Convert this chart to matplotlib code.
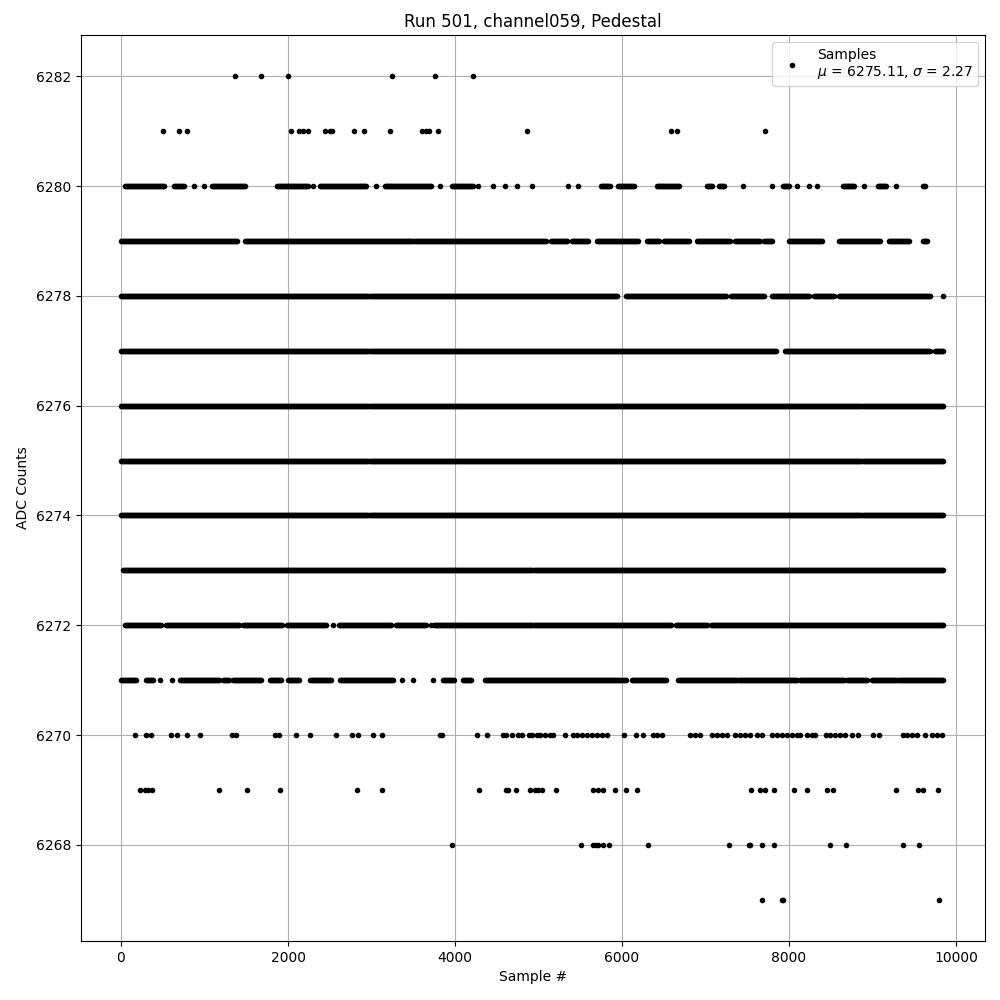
import matplotlib.pyplot as plt
import numpy as np

# Sparse levels: sample numbers
x_6282 = [1365, 1677, 2000, 3245, 3760, 4216]
x_6281 = [507, 698, 793, 2040, 2136, 2184, 2244, 2443, 2503, 2531, 2794, 2914,
          3225, 3604, 3652, 3684, 3800, 4866, 6583, 6655, 7716]
x_6270 = [172, 299, 356, 595, 675, 794, 946, 1329, 1377, 1848, 1888, 2100, 2267,
          2579, 2770, 2838, 3022, 3122, 3820, 3844, 4268, 4380, 4579, 4611, 4683,
          4755, 4803, 4883, 4922, 4978, 5018, 5078, 5138, 5177, 5321, 5417,
          5457, 5517, 5577, 5637, 5696, 5756, 5816, 6028, 6167, 6255, 6375, 6415,
          6475, 6814, 6874, 6934, 7074, 7134, 7193, 7253, 7353, 7413, 7473, 7533,
          7612, 7672, 7792, 7852, 7912, 7972, 8032, 8092, 8132, 8211, 8271, 8311,
          8443, 8491, 8551, 8611, 8671, 8750, 8830, 9010, 9081, 9361, 9409, 9469,
          9529, 9629, 9716, 9768, 9828]
x_6269 = [228, 287, 327, 367, 1178, 1505, 1908, 2830, 3130, 4291, 4611, 4639,
          4731, 4898, 4958, 4998, 5038, 5209, 5656, 5716, 5776, 5916, 6044, 6175,
          7541, 7652, 7712, 7824, 8064, 8211, 8451, 8531, 9281, 9549, 9609, 9788]
x_6268 = [3968, 5513, 5656, 5685, 5716, 5776, 5848, 6315, 7285, 7525, 7537, 7680,
          7824, 8494, 8686, 9369, 9560]
x_6267 = [7680, 7912, 7924, 9800]

# Dense levels: runs (first sample, last sample) of visible points
runs_6280 = [(48, 527), (635, 766), (874, 874), (990, 990), (1086, 1493),
             (1864, 2243), (2295, 2295), (2383, 2942), (3058, 3058), (3162, 3720),
             (3820, 3820), (3960, 4220), (4280, 4280), (4460, 4460), (4600, 4600),
             (4740, 4740), (4918, 4918), (5357, 5357), (5469, 5469), (5748, 5856),
             (5956, 6155), (6415, 6682), (7014, 7074), (7165, 7225), (7453, 7453),
             (7800, 7800), (7932, 8012), (8100, 8100), (8243, 8243), (8339, 8339),
             (8650, 8790), (8902, 8902), (9070, 9170), (9281, 9281), (9609, 9641)]
runs_6279 = [(0, 1400), (1480, 3500), (3520, 5100), (5150, 5350), (5400, 5600),
             (5700, 6200), (6300, 6450), (6500, 6800), (6900, 7300), (7350, 7650),
             (7700, 7800), (8000, 8400), (8600, 9100), (9200, 9450), (9600, 9650)]
runs_6278 = [(0, 5950), (6050, 7250), (7300, 7700), (7800, 8250), (8300, 8550),
             (8600, 9700), (9850, 9850)]
runs_6277 = [(0, 7850), (7950, 9700), (9750, 9850)]
runs_6276 = [(0, 9850)]
runs_6275 = [(0, 9850)]
runs_6274 = [(0, 9850)]
runs_6273 = [(20, 9850)]
runs_6272 = [(48, 487), (539, 1425), (1457, 1936), (1984, 2463), (2535, 2535),
             (2615, 3241), (3293, 3660), (3712, 3712), (3752, 6595), (6643, 7026),
             (7062, 9850)]
runs_6271 = [(0, 188), (300, 387), (467, 467), (607, 607), (707, 1186), (1226, 1305),
             (1345, 1685), (1784, 1924), (2004, 2144), (2263, 2523), (2623, 3261),
             (3361, 3361), (3501, 3501), (3740, 3740), (3860, 4000), (4100, 4200),
             (4359, 5996), (6016, 6056), (6116, 6535), (6675, 8092), (8132, 8670),
             (8690, 8930), (8990, 9289), (9309, 9856)]

sparse = {6282: x_6282, 6281: x_6281, 6270: x_6270, 6269: x_6269,
          6268: x_6268, 6267: x_6267}
dense = {6280: runs_6280, 6279: runs_6279, 6278: runs_6278, 6277: runs_6277,
         6276: runs_6276, 6275: runs_6275, 6274: runs_6274, 6273: runs_6273,
         6272: runs_6272, 6271: runs_6271}

xs, ys = [], []
for level, pts in sparse.items():
    xs.extend(pts)
    ys.extend([level] * len(pts))
for level, runs in dense.items():
    for a, b in runs:
        seg = np.arange(a, b + 1, 12)
        xs.extend(seg)
        ys.extend([level] * len(seg))

fig, ax = plt.subplots(figsize=(10, 10), dpi=100)
fig.subplots_adjust(left=0.081, right=0.985, top=0.965, bottom=0.059)

ax.plot(xs, ys, 'k.', label='Samples\n$\\mu$ = 6275.11, $\\sigma$ = 2.27')
ax.set_xlim(-479, 10347)
ax.set_ylim(6266.25, 6282.75)
ax.set_title('Run 501, channel059, Pedestal')
ax.set_xlabel('Sample #')
ax.set_ylabel('ADC Counts')
ax.grid(True)
ax.legend(loc='upper right')

fig.savefig('out.png')
